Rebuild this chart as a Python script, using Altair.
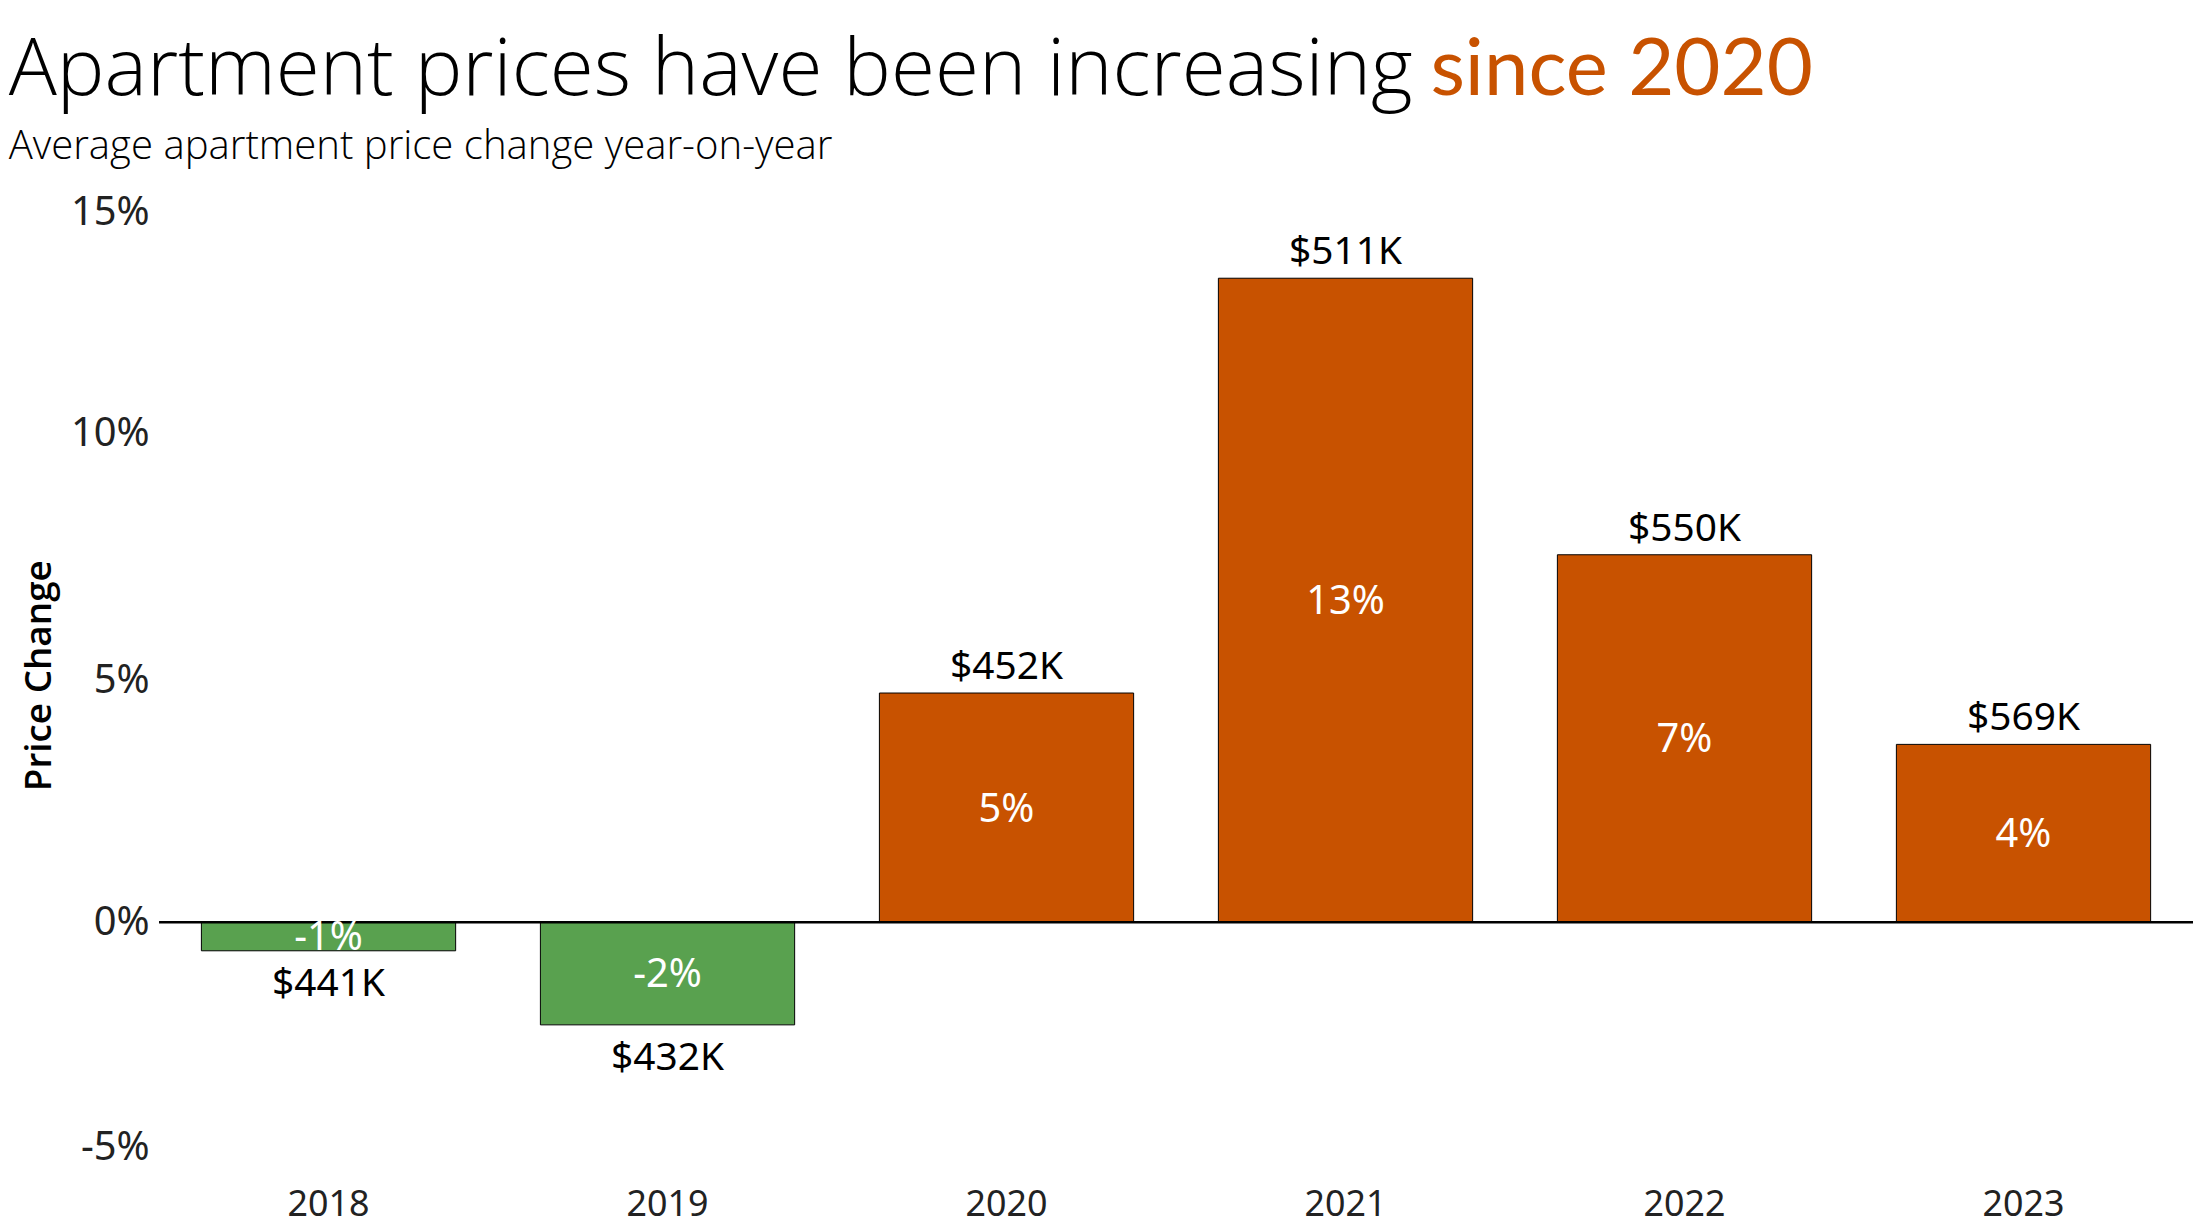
import altair as alt
import pandas as pd

# ---- data ----
years = ["2018", "2019", "2020", "2021", "2022", "2023"]
price_change = [-0.58, -2.08, 4.64, 13.04, 7.44, 3.60]   # percent
price_labels = ["$441K", "$432K", "$452K", "$511K", "$550K", "$569K"]
pct_labels = ["-1%", "-2%", "5%", "13%", "7%", "4%"]
y_ticks = [-5, 0, 5, 10, 15]

title_main = "Apartment prices have been increasing"
title_accent = "since 2020"
subtitle = "Average apartment price change year-on-year"

ORANGE = "#C85200"
GREEN = "#59A14F"

W = 2043
H = 992

df = pd.DataFrame({
    "year": years,
    "change": price_change,
    "price": price_labels,
    "pct": pct_labels,
})

base = alt.Chart(df)

xenc = alt.X(
    "year:N",
    sort=years,
    scale=alt.Scale(paddingInner=0.25, paddingOuter=0.125),
    axis=alt.Axis(
        title=None, labelAngle=0, labelFontSize=36, labelFont="Noto Sans",
        labelColor="#222222", labelBaseline="middle", labelPadding=36,
        ticks=False, tickSize=0, domain=False, grid=False,
    ),
)

yscale = alt.Scale(domain=[-5, 15], nice=False, zero=False)

bars = base.mark_bar(stroke="black", strokeWidth=1).encode(
    x=xenc,
    y=alt.Y(
        "change:Q",
        scale=yscale,
        axis=alt.Axis(
            title="Price Change", values=y_ticks,
            labelExpr="datum.value + '%'",
            labelFontSize=40, labelFont="Noto Sans", labelColor="#222222",
            labelPadding=10, ticks=False, tickSize=0, domain=False, grid=False,
            labelFlush=False,
            labelOffset={"expr": "datum.value == 15 ? 31 : datum.value == 10 ? 5 : datum.value == 5 ? 5 : datum.value == -5 ? -22 : 0"},
            titleFont="Open Sans", titleFontSize=37, titleFontWeight=600,
            titleColor="black", titleX=-120, titleY=496, titleAlign="center",
            titleBaseline="middle", titleAngle=270,
        ),
    ),
    color=alt.condition("datum.change > 0", alt.value(ORANGE), alt.value(GREEN)),
)

zero = alt.Chart(pd.DataFrame({"z": [0]})).mark_rule(color="black", strokeWidth=2.5).encode(
    y=alt.Y("z:Q", scale=yscale),
    x=alt.value(0),
    x2=alt.value(W + 4),
)

pct_text = base.transform_calculate(mid="datum.change / 2").mark_text(
    color="white", fontSize=40, font="Noto Sans", baseline="middle", dy=2
).encode(
    x=alt.X("year:N", sort=years),
    y=alt.Y("mid:Q", scale=yscale),
    text="pct:N",
)

price_pos = base.transform_filter("datum.change > 0").mark_text(
    color="black", fontSize=39, font="Noto Sans", baseline="middle", dy=-26
).encode(
    x=alt.X("year:N", sort=years),
    y=alt.Y("change:Q", scale=yscale),
    text="price:N",
)

price_neg = base.transform_filter("datum.change < 0").mark_text(
    color="black", fontSize=39, font="Noto Sans", baseline="middle", dy=33
).encode(
    x=alt.X("year:N", sort=years),
    y=alt.Y("change:Q", scale=yscale),
    text="price:N",
)

t1 = alt.Chart(pd.DataFrame({"t": [title_main]})).mark_text(
    align="left", baseline="alphabetic", fontSize=80.5, font="Open Sans", fontWeight=300, color="black"
).encode(x=alt.value(-151), y=alt.value(-86.5), text="t:N")

t2 = alt.Chart(pd.DataFrame({"t": [title_accent]})).mark_text(
    align="left", baseline="alphabetic", fontSize=80, font="Lato", fontWeight=400, color=ORANGE
).encode(x=alt.value(1277), y=alt.value(-86.5), text="t:N")

t3 = alt.Chart(pd.DataFrame({"t": [subtitle]})).mark_text(
    align="left", baseline="alphabetic", fontSize=40.3, font="Open Sans", fontWeight=300, color="black"
).encode(x=alt.value(-151), y=alt.value(-22.5), text="t:N")

chart = alt.layer(bars, zero, pct_text, price_pos, price_neg, t1, t2, t3).properties(
    width=W,
    height=H,
    autosize=alt.AutoSizeParams(type="none"),
    padding={"left": 151.7, "top": 171.5, "right": 0, "bottom": 57},
).configure_view(strokeWidth=0)

chart.save("out.html", embed_options={"renderer": "svg", "actions": False})
